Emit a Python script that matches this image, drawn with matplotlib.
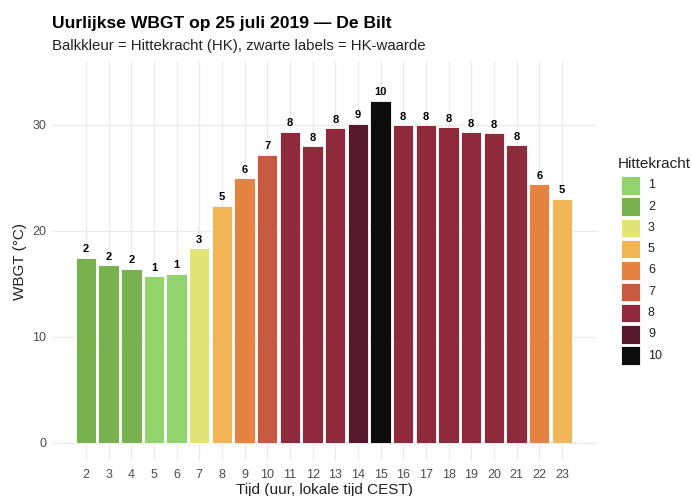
import matplotlib
matplotlib.use("Agg")
import matplotlib.pyplot as plt
from matplotlib.patches import Rectangle

plt.rcParams['font.family'] = ['Liberation Sans', 'DejaVu Sans']

hours = [2, 3, 4, 5, 6, 7, 8, 9, 10, 11, 12, 13, 14, 15, 16, 17, 18, 19, 20, 21, 22, 23]
wbgt = [17.45, 16.75, 16.4, 15.7, 15.95, 18.35, 22.35, 24.95, 27.15, 29.35,
        27.95, 29.65, 30.1, 32.25, 29.95, 29.95, 29.75, 29.3, 29.2, 28.05, 24.4, 23.0]
hk = [2, 2, 2, 1, 1, 3, 5, 6, 7, 8, 8, 8, 9, 10, 8, 8, 8, 8, 8, 8, 6, 5]

hk_levels = [1, 2, 3, 5, 6, 7, 8, 9, 10]
hk_colors = {1: '#92d36e', 2: '#78b24f', 3: '#e2e477', 5: '#f1b556', 6: '#e58340',
             7: '#c75b41', 8: '#8e2a3c', 9: '#56192c', 10: '#0c0c0c'}

W, H = 692, 496
fig = plt.figure(figsize=(W/100, H/100), dpi=100)
ax = fig.add_axes([52/W, 1-461/H, (597-52)/W, (461-62)/H])

ax.bar(hours, wbgt, width=0.9, color=[hk_colors[h] for h in hk],
       edgecolor='white', linewidth=0.6, zorder=3)
for x, y, h in zip(hours, wbgt, hk):
    ax.annotate(str(h), (x, y), xytext=(0, 2.5), textcoords='offset points',
                ha='center', va='bottom', fontsize=8, fontweight='bold',
                color='black', zorder=4)

ax.set_xlim(0.5, 24.55)
ax.set_ylim(-1.7, 35.9)
ax.set_xticks(hours)
ax.set_xticklabels([str(h) for h in hours])
ax.set_yticks([0, 10, 20, 30])
ax.tick_params(axis='both', length=0, labelsize=9, labelcolor='#4d4d4d', pad=4)
ax.tick_params(axis='x', pad=6)
ax.grid(True, color='#ebebeb', linewidth=1.0, zorder=0)
for s in ax.spines.values():
    s.set_visible(False)
ax.set_axisbelow(True)

ax.set_xlabel('Tijd (uur, lokale tijd CEST)', fontsize=11, color='#222222', labelpad=1)
ax.set_ylabel('WBGT (°C)', fontsize=11, color='#222222', labelpad=4)

fig.text(52/W, 1-28/H, 'Uurlijkse WBGT op 25 juli 2019 — De Bilt',
         fontsize=12.6, fontweight='bold', color='black', ha='left', va='baseline')
fig.text(52/W, 1-50/H, 'Balkkleur = Hittekracht (HK), zwarte labels = HK-waarde',
         fontsize=10.8, color='#222222', ha='left', va='baseline')

# legend
fig.text(618/W, 1-168/H, 'Hittekracht', fontsize=11, color='#222222',
         ha='left', va='baseline')
key_top, pitch, kh, kw, kx = 176, 21.3, 18.5, 19.5, 620.5
for i, lvl in enumerate(hk_levels):
    top = key_top + i * pitch
    fig.add_artist(Rectangle((kx/W, 1-(top+kh)/H), kw/W, kh/H, transform=fig.transFigure,
                             facecolor=hk_colors[lvl], edgecolor='white', linewidth=0.6))
    fig.text(648/W, 1-(top+kh/2)/H, str(lvl), fontsize=9, color='#222222',
             ha='left', va='center')

fig.savefig('out.png', dpi=100)
